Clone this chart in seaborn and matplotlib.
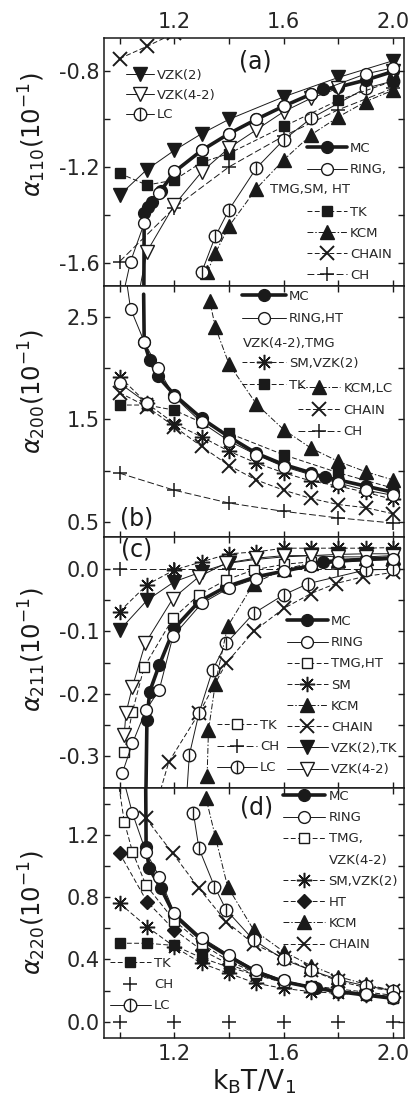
import numpy as np
import matplotlib
matplotlib.use("Agg")
import matplotlib.pyplot as plt
import seaborn as sns
from matplotlib.path import Path
from matplotlib.lines import Line2D

# ---------------- data ----------------
# panel (a): alpha_110
a_MC_x = [1.088, 1.09, 1.105, 1.12, 1.15, 1.2, 1.3, 1.4, 1.5, 1.6, 1.7, 1.745, 1.8, 1.9, 2.0]
a_MC_y = [-1.90, -1.39, -1.365, -1.345, -1.30, -1.22, -1.13, -1.06, -1.00, -0.945, -0.895, -0.875, -0.865, -0.836, -0.80]
a_RING_x = [1.0, 1.04, 1.09, 1.145, 1.2, 1.3, 1.4, 1.5, 1.6, 1.7, 1.9, 2.0]
a_RING_y = [-1.80, -1.595, -1.435, -1.31, -1.215, -1.13, -1.06, -1.0, -0.945, -0.895, -0.81, -0.785]
a_VZK2_x = [1.0, 1.1, 1.2, 1.3, 1.4, 1.6, 1.8, 2.0]
a_VZK2_y = [-1.317, -1.21, -1.13, -1.06, -1.0, -0.906, -0.825, -0.755]
a_VZK42_x = [1.05, 1.1, 1.2, 1.3, 1.4, 1.5, 1.6, 1.7, 1.8, 2.0]
a_VZK42_y = [-1.85, -1.553, -1.358, -1.22, -1.12, -1.044, -0.968, -0.912, -0.87, -0.80]
a_TK_x = [1.0, 1.1, 1.2, 1.3, 1.4, 1.6, 1.8, 2.0]
a_TK_y = [-1.226, -1.275, -1.254, -1.18, -1.143, -1.03, -0.92, -0.84]
a_KCM_x = [1.32, 1.35, 1.4, 1.5, 1.6, 1.7, 1.8, 1.9, 2.0]
a_KCM_y = [-1.64, -1.56, -1.447, -1.29, -1.17, -1.065, -0.99, -0.926, -0.878]
a_LC_x = [1.3, 1.35, 1.4, 1.5, 1.6, 1.7, 1.9, 2.0]
a_LC_y = [-1.64, -1.49, -1.378, -1.204, -1.086, -0.996, -0.87, -0.84]
a_CHAIN_x = [1.0, 1.1, 1.2, 1.4, 1.6, 1.8, 2.0]
a_CHAIN_y = [-0.746, -0.695, -0.64, -0.56, -0.50, -0.45, -0.41]
a_CH_x = [1.0, 1.2, 1.4, 1.6, 1.8, 2.0]
a_CH_y = [-1.595, -1.37, -1.199, -1.07, -0.96, -0.87]

# panel (b): alpha_200
b_MC_x = [1.088, 1.09, 1.11, 1.14, 1.2, 1.3, 1.4, 1.5, 1.6, 1.7, 1.75, 1.8, 1.9, 2.0]
b_MC_y = [2.72, 2.25, 2.08, 1.92, 1.74, 1.51, 1.33, 1.17, 1.06, 0.98, 0.935, 0.91, 0.85, 0.79]
b_RING_x = [1.02, 1.04, 1.09, 1.14, 1.2, 1.3, 1.4, 1.5, 1.6, 1.7, 1.8, 1.9, 2.0]
b_RING_y = [2.95, 2.58, 2.257, 2.0, 1.72, 1.47, 1.29, 1.155, 1.04, 0.96, 0.88, 0.81, 0.76]
b_VZK42_x = [1.0, 1.1]
b_VZK42_y = [1.853, 1.66]
b_SM_x = [1.0, 1.1, 1.2, 1.3, 1.4, 1.5, 1.6, 1.7, 1.8, 1.9, 2.0]
b_SM_y = [1.917, 1.657, 1.46, 1.33, 1.19, 1.075, 0.98, 0.90, 0.85, 0.79, 0.72]
b_TK_x = [1.0, 1.1, 1.2, 1.3, 1.4, 1.6, 1.8, 2.0]
b_TK_y = [1.64, 1.64, 1.59, 1.47, 1.365, 1.155, 0.98, 0.83]
b_CHAIN_x = [1.0, 1.1, 1.2, 1.3, 1.4, 1.5, 1.6, 1.7, 1.8, 1.9, 2.0]
b_CHAIN_y = [1.76, 1.625, 1.43, 1.236, 1.05, 0.91, 0.81, 0.73, 0.67, 0.64, 0.58]
b_KCM_x = [1.33, 1.35, 1.4, 1.5, 1.6, 1.7, 1.8, 1.9, 2.0]
b_KCM_y = [2.65, 2.40, 2.04, 1.65, 1.40, 1.22, 1.09, 0.99, 0.91]
b_CH_x = [1.0, 1.2, 1.4, 1.6, 1.8, 2.0]
b_CH_y = [0.976, 0.81, 0.685, 0.604, 0.54, 0.49]

# panel (c): alpha_211
c_MC_x = [1.095, 1.10, 1.11, 1.145, 1.2, 1.29, 1.39, 1.5, 1.6, 1.7, 1.745, 1.8, 1.9, 2.0]
c_MC_y = [-0.40, -0.243, -0.197, -0.154, -0.095, -0.052, -0.028, -0.012, -0.003, 0.006, 0.012, 0.014, 0.016, 0.018]
c_RING_x = [1.01, 1.047, 1.096, 1.145, 1.195, 1.3, 1.4, 1.5, 1.6, 1.7, 1.8, 1.9, 2.0]
c_RING_y = [-0.328, -0.28, -0.227, -0.194, -0.108, -0.055, -0.03, -0.015, -0.002, 0.006, 0.011, 0.014, 0.016]
c_TMG_x = [1.017, 1.047, 1.09, 1.195, 1.29, 1.39, 1.49, 1.6, 1.7, 1.8, 1.9, 2.0]
c_TMG_y = [-0.294, -0.229, -0.157, -0.079, -0.041, -0.017, -0.001, 0.008, 0.012, 0.013, 0.015, 0.016]
c_VZK42_x = [1.017, 1.023, 1.047, 1.094, 1.195, 1.29, 1.39, 1.5, 1.6, 1.7, 1.8, 1.9, 2.0]
c_VZK42_y = [-0.267, -0.232, -0.189, -0.119, -0.047, -0.012, 0.01, 0.018, 0.022, 0.022, 0.02, 0.02, 0.022]
c_SM_x = [1.0, 1.1, 1.2, 1.3, 1.4, 1.5, 1.6, 1.7, 1.8, 1.9, 2.0]
c_SM_y = [-0.068, -0.025, -0.001, 0.012, 0.025, 0.028, 0.034, 0.034, 0.034, 0.034, 0.035]
c_VZK2_x = [1.0, 1.1, 1.2, 1.3, 1.4, 1.5, 1.6, 1.7, 1.8, 1.9, 2.0]
c_VZK2_y = [-0.098, -0.05, -0.02, -0.004, 0.01, 0.016, 0.02, 0.022, 0.024, 0.025, 0.025]
c_KCM_x = [1.32, 1.325, 1.35, 1.395, 1.49, 1.6, 1.7, 1.8, 1.9, 2.0]
c_KCM_y = [-0.333, -0.259, -0.184, -0.092, -0.023, 0.0, 0.01, 0.015, 0.018, 0.02]
c_LC_x = [1.24, 1.255, 1.29, 1.34, 1.39, 1.49, 1.6, 1.69, 1.9, 2.0]
c_LC_y = [-0.40, -0.299, -0.232, -0.162, -0.119, -0.071, -0.041, -0.023, -0.001, 0.0]
c_CHAIN_x = [1.12, 1.18, 1.29, 1.39, 1.49, 1.6, 1.7, 1.79, 1.89, 2.0]
c_CHAIN_y = [-0.40, -0.31, -0.232, -0.151, -0.100, -0.063, -0.039, -0.023, -0.012, -0.005]
c_CH_x = [1.0, 1.2, 1.4, 1.6, 1.8, 2.0]
c_CH_y = [0.0, 0.0, 0.0, 0.0, 0.0, 0.0]

# panel (d): alpha_220
d_MC_x = [1.095, 1.097, 1.108, 1.151, 1.2, 1.3, 1.4, 1.5, 1.6, 1.72, 1.8, 1.9, 2.0]
d_MC_y = [1.65, 1.125, 0.986, 0.858, 0.686, 0.525, 0.418, 0.321, 0.257, 0.214, 0.193, 0.171, 0.15]
d_RING_x = [1.0, 1.047, 1.096, 1.145, 1.2, 1.3, 1.4, 1.5, 1.6, 1.7, 1.8, 1.9, 2.0]
d_RING_y = [1.65, 1.34, 1.093, 0.932, 0.70, 0.54, 0.43, 0.33, 0.265, 0.225, 0.2, 0.18, 0.16]
d_TMG_x = [0.99, 1.017, 1.047, 1.096, 1.2, 1.3, 1.4, 1.5, 1.6, 1.7, 1.8, 1.9, 2.0]
d_TMG_y = [1.6, 1.286, 1.093, 0.879, 0.65, 0.5, 0.39, 0.31, 0.255, 0.22, 0.195, 0.175, 0.155]
d_SM_x = [1.0, 1.1, 1.2, 1.3, 1.4, 1.5, 1.6, 1.7, 1.8, 1.9, 2.0]
d_SM_y = [0.761, 0.611, 0.482, 0.375, 0.31, 0.246, 0.214, 0.193, 0.182, 0.171, 0.16]
d_HT_x = [1.0, 1.1, 1.2, 1.3, 1.4, 1.5, 1.6, 1.7, 1.8, 1.9, 2.0]
d_HT_y = [1.083, 0.772, 0.59, 0.46, 0.37, 0.30, 0.25, 0.22, 0.20, 0.18, 0.16]
d_KCM_x = [1.316, 1.35, 1.395, 1.49, 1.6, 1.7, 1.8, 1.9, 2.0]
d_KCM_y = [1.437, 1.19, 0.868, 0.59, 0.45, 0.36, 0.29, 0.24, 0.20]
d_LC_x = [1.27, 1.29, 1.347, 1.39, 1.49, 1.6, 1.7, 1.8, 1.9, 2.0]
d_LC_y = [1.34, 1.115, 0.868, 0.718, 0.525, 0.40, 0.33, 0.27, 0.23, 0.20]
d_CHAIN_x = [1.096, 1.194, 1.29, 1.39, 1.49, 1.6, 1.7, 1.8, 1.9, 2.0]
d_CHAIN_y = [1.308, 1.083, 0.858, 0.643, 0.50, 0.41, 0.33, 0.26, 0.22, 0.20]
d_TK_x = [1.0, 1.1, 1.2, 1.3, 1.4, 1.5, 1.6, 1.7, 1.8, 1.9, 2.0]
d_TK_y = [0.504, 0.504, 0.49, 0.41, 0.35, 0.30, 0.26, 0.23, 0.21, 0.19, 0.17]
d_CH_x = [1.0, 1.2, 1.4, 1.6, 1.8, 2.0]
d_CH_y = [0.0, 0.0, 0.0, 0.0, 0.0, 0.0]

# axis ticks / labels
x_ticks = [1.0, 1.2, 1.4, 1.6, 1.8, 2.0]
x_ticklabels = ['', '1.2', '', '1.6', '', '2.0']
a_yticks = [-1.6, -1.4, -1.2, -1.0, -0.8]
a_yticklabels = ['-1.6', '', '-1.2', '', '-0.8']
b_yticks = [0.5, 1.0, 1.5, 2.0, 2.5]
b_yticklabels = ['0.5', '', '1.5', '', '2.5']
c_yticks = [-0.3, -0.25, -0.2, -0.15, -0.1, -0.05, 0.0]
c_yticklabels = ['-0.3', '', '-0.2', '', '-0.1', '', '0.0']
d_yticks = [0.0, 0.2, 0.4, 0.6, 0.8, 1.0, 1.2, 1.4]
d_yticklabels = ['0.0', '', '0.4', '', '0.8', '', '1.2', '']
y_labels = [r'$\alpha_{110}(10^{-1})$', r'$\alpha_{200}(10^{-1})$',
            r'$\alpha_{211}(10^{-1})$', r'$\alpha_{220}(10^{-1})$']
panel_tags = ['(a)', '(b)', '(c)', '(d)']
x_label = r'$\mathregular{k_BT/V_1}$'

# ---------------- style ----------------
sns.set_theme(style="ticks")
plt.rcParams['font.family'] = ['DejaVu Sans']
plt.rcParams['mathtext.fontset'] = 'dejavusans'
plt.rcParams['axes.linewidth'] = 1.1

W, H = 412, 1101
fig = plt.figure(figsize=(W / 100, H / 100), dpi=100)
fig.patch.set_facecolor('white')

_c = Path.unit_circle()
LC_MARKER = Path(np.concatenate([_c.vertices, [[0, -1.0], [0, 1.0]]]),
                 np.concatenate([_c.codes, [Path.MOVETO, Path.LINETO]]))

DASH = (0, (5, 2.5))
LDASH = (0, (7, 3))
DDOT = (0, (6, 2, 1.5, 2))
STY = {
    'MC':    dict(marker='o', mfc='k', lw=2.6, ls='-', ms=8.5, mew=1.0),
    'RING':  dict(marker='o', mfc='white', lw=0.7, ls='-', ms=8.5, mew=1.0),
    'TMG':   dict(marker='s', mfc='white', lw=0.7, ls=DASH, ms=7.5, mew=1.0),
    'TK':    dict(marker='s', mfc='k', lw=0.7, ls=DASH, ms=7.5, mew=1.0),
    'KCM':   dict(marker='^', mfc='k', lw=0.7, ls=DDOT, ms=9.5, mew=1.0),
    'CHAIN': dict(marker='x', mfc='k', lw=0.7, ls=DASH, ms=10, mew=1.4),
    'CH':    dict(marker='+', mfc='k', lw=0.7, ls=LDASH, ms=10, mew=1.1),
    'VZK2':  dict(marker='v', mfc='k', lw=0.7, ls='-', ms=9.5, mew=1.0),
    'VZK42': dict(marker='v', mfc='white', lw=0.7, ls='-', ms=9.5, mew=1.0),
    'LC':    dict(marker=LC_MARKER, mfc='white', lw=0.7, ls='-', ms=9, mew=1.0),
    'SM':    dict(marker=(8, 2, 0), mfc='k', lw=0.7, ls=DASH, ms=11, mew=1.1),
    'HT':    dict(marker='D', mfc='k', lw=0.7, ls=DASH, ms=7.5, mew=1.0),
}


def draw(ax, x, y, key, ls=None, z=3, skip_first=False):
    st = STY[key]
    kw = {}
    if skip_first:
        kw['markevery'] = list(range(1, len(x)))
    sns.lineplot(x=x, y=y, ax=ax, sort=False, estimator=None, legend=False,
                 color='k', linestyle=(st['ls'] if ls is None else ls),
                 linewidth=st['lw'], marker=st['marker'], markersize=st['ms'],
                 markerfacecolor=st['mfc'], markeredgecolor='k',
                 markeredgewidth=st['mew'], zorder=z, **kw)


def handle(key, ls=None):
    if key is None:
        return Line2D([], [], linestyle='none', marker=None)
    st = STY[key]
    return Line2D([], [], color='k', linestyle=(st['ls'] if ls is None else ls),
                  linewidth=st['lw'], marker=st['marker'], markersize=st['ms'],
                  markerfacecolor=st['mfc'], markeredgecolor='k',
                  markeredgewidth=st['mew'])


def add_legend(ax, entries, left_px, top_px, hl, spacing=0.62):
    hs = [handle(k, ls) for k, lab, ls in entries]
    labs = [lab for k, lab, ls in entries]
    leg = ax.legend(hs, labs, loc='upper left',
                    bbox_to_anchor=(left_px / W, 1 - top_px / H),
                    bbox_transform=fig.transFigure, frameon=False,
                    borderpad=0, borderaxespad=0, handlelength=hl,
                    handletextpad=0.25, labelspacing=spacing, fontsize=9.5,
                    numpoints=1)
    ax.legend_ = None
    ax.add_artist(leg)
    return leg


edges = [38, 286, 537, 788, 1038]
left, right = 104, 404
ylims = [(-1.697, -0.66), (0.354, 2.80), (-0.352, 0.052), (-0.105, 1.502)]
yticks = [a_yticks, b_yticks, c_yticks, d_yticks]
yticklabels = [a_yticklabels, b_yticklabels, c_yticklabels, d_yticklabels]
ylab_pos = [0.61, 0.58, 0.55, 0.50]
tag_pos = [(255, 62), (137, 518), (137, 550), (257, 807)]

axes = []
for i in range(4):
    ax = fig.add_axes([left / W, 1 - edges[i + 1] / H, (right - left) / W,
                       (edges[i + 1] - edges[i]) / H])
    ax.set_facecolor('white')
    ax.set_xlim(0.943, 2.04)
    ax.set_ylim(*ylims[i])
    ax.set_xticks(x_ticks)
    ax.set_yticks(yticks[i])
    ax.set_yticklabels(yticklabels[i])
    ax.tick_params(axis='both', which='both', direction='in', top=True,
                   right=True, length=4.5, width=1.0, labelsize=15, color='k')
    ax.tick_params(axis='y', pad=3)
    ax.tick_params(axis='x', pad=4.5)
    if i == 0:
        ax.set_xticklabels(x_ticklabels)
        ax.tick_params(axis='x', labeltop=True, labelbottom=False)
    elif i == 3:
        ax.set_xticklabels(x_ticklabels)
        ax.tick_params(axis='x', labeltop=False, labelbottom=True)
    else:
        ax.set_xticklabels([''] * len(x_ticks))
        ax.tick_params(axis='x', labeltop=False, labelbottom=False)
    for s in ax.spines.values():
        s.set_color('k')
        s.set_linewidth(1.1)
    ax.set_ylabel(y_labels[i], fontsize=17.5, color='k')
    ax.yaxis.set_label_coords(-0.187, ylab_pos[i])
    ax.set_xlabel('')
    fig.text(tag_pos[i][0] / W, 1 - tag_pos[i][1] / H, panel_tags[i],
             fontsize=17, ha='center', va='center', color='k')
    axes.append(ax)

axA, axB, axC, axD = axes

# ----- panel (a)
draw(axA, a_CHAIN_x, a_CHAIN_y, 'CHAIN')
draw(axA, a_CH_x, a_CH_y, 'CH')
draw(axA, a_KCM_x, a_KCM_y, 'KCM')
draw(axA, a_LC_x, a_LC_y, 'LC')
draw(axA, a_TK_x, a_TK_y, 'TK')
draw(axA, a_VZK2_x, a_VZK2_y, 'VZK2')
draw(axA, a_MC_x, a_MC_y, 'MC', z=3)
draw(axA, a_VZK42_x, a_VZK42_y, 'VZK42', z=4)
draw(axA, a_RING_x, a_RING_y, 'RING', z=4)
add_legend(axA, [('MC', 'MC', None), ('RING', 'RING,', None), (None, ' ', None),
                 ('TK', 'TK', None), ('KCM', 'KCM', None),
                 ('CHAIN', 'CHAIN', None), ('CH', 'CH', None)], 307, 142, 3.0)
fig.text(270 / W, 1 - 190 / H, 'TMG,SM, HT', fontsize=9.5, ha='left', va='center')
add_legend(axA, [('VZK2', 'VZK(2)', None), ('VZK42', 'VZK(4-2)', None),
                 ('LC', 'LC', None)], 126, 69, 2.1, spacing=0.5)

# ----- panel (b)
draw(axB, b_CH_x, b_CH_y, 'CH')
draw(axB, b_CHAIN_x, b_CHAIN_y, 'CHAIN')
draw(axB, b_KCM_x, b_KCM_y, 'KCM')
draw(axB, b_TK_x, b_TK_y, 'TK')
draw(axB, b_SM_x, b_SM_y, 'SM')
draw(axB, b_VZK42_x, b_VZK42_y, 'RING')
draw(axB, b_MC_x, b_MC_y, 'MC', skip_first=True)
draw(axB, b_RING_x, b_RING_y, 'RING', z=4)
add_legend(axB, [('MC', 'MC', None), ('RING', 'RING,HT', None), (None, ' ', None),
                 ('SM', 'SM,VZK(2)', None), ('TK', 'TK', None)], 242, 290, 3.3,
           spacing=0.70)
fig.text(243 / W, 1 - 343 / H, 'VZK(4-2),TMG', fontsize=9.5, ha='left', va='center')
add_legend(axB, [('KCM', 'KCM,LC', None), ('CHAIN', 'CHAIN', None),
                 ('CH', 'CH', None)], 298, 382, 3.2, spacing=0.66)

# ----- panel (c)
draw(axC, c_CH_x, c_CH_y, 'CH')
draw(axC, c_SM_x, c_SM_y, 'SM')
draw(axC, c_VZK2_x, c_VZK2_y, 'VZK2')
draw(axC, c_CHAIN_x, c_CHAIN_y, 'CHAIN')
draw(axC, c_LC_x, c_LC_y, 'LC')
draw(axC, c_KCM_x, c_KCM_y, 'KCM')
draw(axC, c_MC_x, c_MC_y, 'MC')
draw(axC, c_TMG_x, c_TMG_y, 'TMG', z=4)
draw(axC, c_VZK42_x, c_VZK42_y, 'VZK42', z=4)
draw(axC, c_RING_x, c_RING_y, 'RING', z=4)
add_legend(axC, [('MC', 'MC', None), ('RING', 'RING', None), ('TMG', 'TMG,HT', None),
                 ('SM', 'SM', None), ('KCM', 'KCM', None), ('CHAIN', 'CHAIN', None),
                 ('VZK2', 'VZK(2),TK', None), ('VZK42', 'VZK(4-2)', None)],
           287, 615, 3.1)
add_legend(axC, [('TMG', 'TK', None), ('CH', 'CH', None), ('LC', 'LC', None)],
           217, 719, 3.0)

# ----- panel (d)
draw(axD, d_CH_x, d_CH_y, 'CH', ls='none')
draw(axD, d_TK_x, d_TK_y, 'TK')
draw(axD, d_SM_x, d_SM_y, 'SM')
draw(axD, d_HT_x, d_HT_y, 'HT')
draw(axD, d_CHAIN_x, d_CHAIN_y, 'CHAIN')
draw(axD, d_KCM_x, d_KCM_y, 'KCM')
draw(axD, d_LC_x, d_LC_y, 'LC')
draw(axD, d_MC_x, d_MC_y, 'MC')
draw(axD, d_TMG_x, d_TMG_y, 'TMG', z=4)
draw(axD, d_RING_x, d_RING_y, 'RING', z=4)
add_legend(axD, [('MC', 'MC', None), ('RING', 'RING', None), ('TMG', 'TMG,', None),
                 (None, 'VZK(4-2)', None), ('SM', 'SM,VZK(2)', None),
                 ('HT', 'HT', None), ('KCM', 'KCM', None), ('CHAIN', 'CHAIN', None)],
           283, 790, 3.2)
add_legend(axD, [('TK', 'TK', None), ('CH', 'CH', 'none'), ('LC', 'LC', None)],
           110, 957, 3.1)

axD.set_xlabel(x_label, fontsize=19, labelpad=2, color='k')

fig.savefig('out.png', dpi=100, facecolor='white')
